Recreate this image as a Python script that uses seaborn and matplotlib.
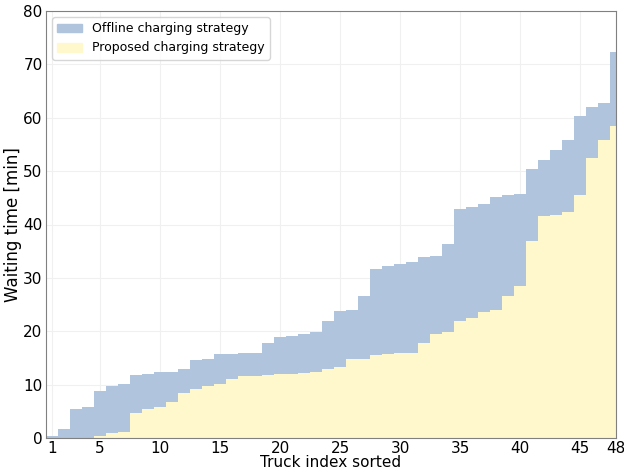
import numpy as np
import pandas as pd
import matplotlib
matplotlib.use("Agg")
import matplotlib.pyplot as plt
import seaborn as sns
from matplotlib.patches import Patch

# waiting time per truck [min], trucks sorted
trucks = list(range(1, 49))
offline = [0.4, 1.6, 5.4, 5.9, 8.8, 9.7, 10.2, 11.8, 11.9, 12.3,
           12.4, 12.9, 14.6, 14.8, 15.7, 15.7, 15.9, 15.9, 17.8, 18.9,
           19.2, 19.5, 19.8, 22.0, 23.8, 24.0, 26.6, 31.7, 32.2, 32.6,
           33.0, 33.9, 34.1, 36.3, 42.9, 43.3, 43.9, 45.2, 45.5, 45.8,
           50.4, 52.1, 53.9, 55.8, 60.3, 62.1, 62.8, 72.3]
proposed = [0.0, 0.0, 0.0, 0.0, 0.4, 1.0, 1.2, 4.6, 5.4, 5.9,
            6.7, 8.4, 9.2, 9.7, 10.2, 11.0, 11.6, 11.7, 11.8, 11.9,
            12.0, 12.2, 12.4, 12.9, 13.3, 14.8, 14.8, 15.6, 15.7, 15.9,
            15.9, 17.8, 19.5, 19.8, 22.0, 22.5, 23.7, 23.9, 26.6, 28.5,
            36.9, 41.5, 41.8, 42.3, 45.5, 52.5, 55.8, 58.5]
xticks = [1, 5, 10, 15, 20, 25, 30, 35, 40, 45, 48]

df = pd.DataFrame({"truck": trucks, "offline": offline, "proposed": proposed})

sns.set_style("whitegrid", {"grid.color": "#f0f0f0", "axes.edgecolor": "#808080",
                            "text.color": "black", "axes.labelcolor": "black",
                            "xtick.color": "black", "ytick.color": "black"})
blue = "#b0c4de"
yellow = "#fff8cc"

fig = plt.figure(figsize=(6.24, 4.75), dpi=100)
ax = fig.add_axes([46 / 624, 1 - 438 / 475, 570 / 624, 427 / 475])

sns.barplot(data=df, x="truck", y="offline", native_scale=True, width=1.0,
            color=blue, saturation=1, linewidth=0, errorbar=None, ax=ax)
sns.barplot(data=df, x="truck", y="proposed", native_scale=True, width=1.0,
            color=yellow, saturation=1, linewidth=0, errorbar=None, ax=ax)

ax.set_xlim(0.5, 48)
ax.set_ylim(0, 80)
ax.set_xticks(xticks)
ax.set_yticks(range(0, 81, 10))
ax.tick_params(labelsize=11, length=2, color="#808080", pad=0.5)
ax.set_xlabel("Truck index sorted", fontsize=11, labelpad=-1)
ax.set_ylabel("Waiting time [min]", fontsize=12, labelpad=1)
for s in ax.spines.values():
    s.set_visible(True)
    s.set_color("#808080")
ax.set_axisbelow(True)

handles = [Patch(color=blue, label="Offline charging strategy"),
           Patch(color=yellow, label="Proposed charging strategy")]
ax.legend(handles=handles, loc="upper left", fontsize=9, frameon=True)

fig.savefig("out.png", dpi=100)
